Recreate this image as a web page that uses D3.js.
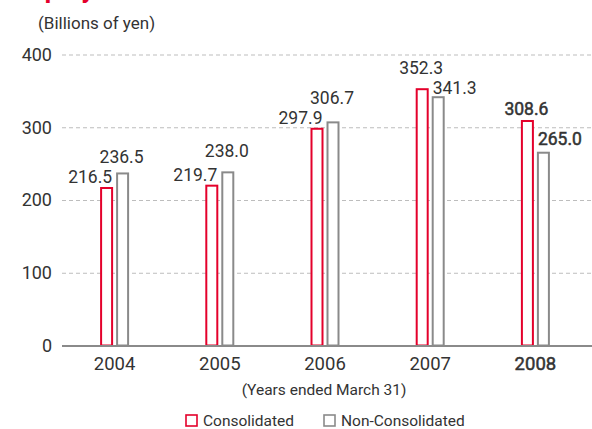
<!DOCTYPE html>
<html>
<head>
<meta charset="utf-8">
<script src="https://cdn.jsdelivr.net/npm/d3@7"></script>
<style>
  body { margin: 0; background: #fff; }
  text { font-family: Roboto, "Liberation Sans", sans-serif; fill: #333; }
</style>
</head>
<body>
<div id="graph"></div>
<script>
//Size of the picture.
let w = 592
let h = 429

//Chart values.
let years = ["2004", "2005", "2006", "2007", "2008"]
let consolidated = [216.5, 219.7, 297.9, 352.3, 308.6]
let nonConsolidated = [236.5, 238.0, 306.7, 341.3, 265.0]
let yTicks = [0, 100, 200, 300, 400]
let seriesNames = ["Consolidated", "Non-Consolidated"]

//Where each value label sits next to its bar (anchor and lift above the bar top).
let consLabelPlace = [["end", 5], ["end", 5], ["end", 5], ["middle", 15], ["middle", 6]]
let nonLabelPlace = [["middle", 10], ["middle", 15], ["middle", 18], ["start", 3], ["start", 8]]

//Colors.
let red = "#e4002b"
let gray = "#8a8a8a"

const svg = d3.select("#graph")
              .append("svg")
              .attr("width", w)
              .attr("height", h)

//Scales.
let x = d3.scaleBand()
          .domain(years)
          .range([62, 588])

let y = d3.scaleLinear()
          .domain([0, 400])
          .range([345.5, 54.5])

//Title, mostly cut off at the top edge like in the source page.
svg.append("text")
   .attr("x", 22)
   .attr("y", -2)
   .attr("font-size", 26)
   .attr("font-weight", "bold")
   .style("fill", red)
   .text("Equity")

//Unit label.
svg.append("text")
   .attr("x", 38)
   .attr("y", 29)
   .attr("font-size", 17)
   .text("(Billions of yen)")

//Dashed grid lines with the y tick labels.
let yAxis = d3.axisLeft(y)
              .tickValues(yTicks)
              .tickSize(-(592 - 62))
              .tickPadding(10)

svg.append("g")
   .attr("transform", "translate(62,0)")
   .call(yAxis)
   .call(g => g.select(".domain").remove())
   .call(g => g.selectAll(".tick line")
               .attr("stroke", "#bdbdbd")
               .attr("stroke-dasharray", "4,3"))
   .call(g => g.selectAll(".tick text")
               .attr("font-size", 18)
               .attr("x", -10)
               .style("fill", "#333"))

//Bars for each year.
const groups = svg.selectAll(".year")
                  .data(years)
                  .enter()
                  .append("g")
                  .attr("class", "year")

groups.append("rect")
      .attr("x", d => x(d) + x.bandwidth() / 2 - 13.5)
      .attr("y", (d, i) => y(consolidated[i]))
      .attr("width", 11)
      .attr("height", (d, i) => y(0) - y(consolidated[i]))
      .attr("fill", "#fff")
      .attr("stroke", red)
      .attr("stroke-width", 2)

groups.append("rect")
      .attr("x", d => x(d) + x.bandwidth() / 2 + 2.5)
      .attr("y", (d, i) => y(nonConsolidated[i]))
      .attr("width", 11)
      .attr("height", (d, i) => y(0) - y(nonConsolidated[i]))
      .attr("fill", "#fff")
      .attr("stroke", gray)
      .attr("stroke-width", 2)

//Picks the x for a label from its anchor and its bar.
function labelX(barLeft, anchor) {
  if (anchor == "end") return barLeft + 12
  if (anchor == "start") return barLeft + 1
  return barLeft + 5.5
}

//The latest year is printed a bit heavier.
const isLast = (i) => i == years.length - 1

//Value labels.
groups.append("text")
      .attr("x", (d, i) => labelX(x(d) + x.bandwidth() / 2 - 14.5, consLabelPlace[i][0]))
      .attr("y", (d, i) => y(consolidated[i]) - consLabelPlace[i][1])
      .attr("text-anchor", (d, i) => consLabelPlace[i][0])
      .attr("font-size", 17.5)
      .attr("stroke", (d, i) => isLast(i) ? "#333" : "none")
      .attr("stroke-width", 0.5)
      .text((d, i) => consolidated[i].toFixed(1))

groups.append("text")
      .attr("x", (d, i) => labelX(x(d) + x.bandwidth() / 2 + 1.5, nonLabelPlace[i][0]))
      .attr("y", (d, i) => y(nonConsolidated[i]) - nonLabelPlace[i][1])
      .attr("text-anchor", (d, i) => nonLabelPlace[i][0])
      .attr("font-size", 17.5)
      .attr("stroke", (d, i) => isLast(i) ? "#333" : "none")
      .attr("stroke-width", 0.5)
      .text((d, i) => nonConsolidated[i].toFixed(1))

//Bottom axis.
let xAxis = d3.axisBottom(x)
              .tickSize(0)
              .tickPadding(11)

svg.append("g")
   .attr("transform", "translate(0," + (y(0) + 0.5) + ")")
   .call(xAxis)
   .call(g => g.select(".domain")
               .attr("d", "M62,0H592")
               .attr("stroke", gray)
               .attr("stroke-width", 2))
   .call(g => g.selectAll(".tick text")
               .attr("font-size", 18.5)
               .attr("stroke", d => d == "2008" ? "#333" : "none")
               .attr("stroke-width", 0.5)
               .style("fill", "#333"))

svg.append("text")
   .attr("x", 324)
   .attr("y", 395)
   .attr("text-anchor", "middle")
   .attr("font-size", 15.5)
   .text("(Years ended March 31)")

//Legend.
let legendX = [186, 324]
let legendColors = [red, gray]

const legend = svg.selectAll(".legend")
                  .data(seriesNames)
                  .enter()
                  .append("g")
                  .attr("class", "legend")
                  .attr("transform", (d, i) => "translate(" + legendX[i] + ",415)")

legend.append("rect")
      .attr("width", 11)
      .attr("height", 11)
      .attr("fill", "#fff")
      .attr("stroke", (d, i) => legendColors[i])
      .attr("stroke-width", 1.6)

legend.append("text")
      .attr("x", 17)
      .attr("y", 11)
      .attr("font-size", 15.5)
      .text(d => d)
</script>
</body>
</html>
